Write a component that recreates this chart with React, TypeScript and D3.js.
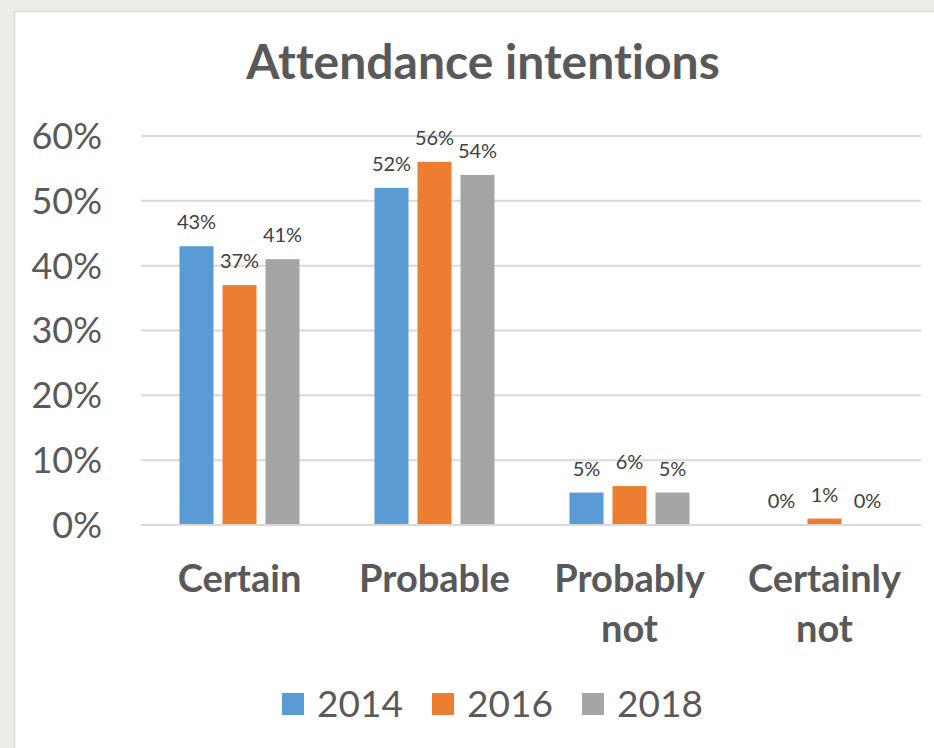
import React from "react";
import * as d3 from "d3";

const categories = ["Certain", "Probable", "Probably not", "Certainly not"];
const categoryLines = [["Certain"], ["Probable"], ["Probably", "not"], ["Certainly", "not"]];
const seriesNames = ["2014", "2016", "2018"];
const values2014 = [43, 52, 5, 0];
const values2016 = [37, 56, 6, 1];
const values2018 = [41, 54, 5, 0];
const seriesColors = ["#5B9BD5", "#ED7D31", "#A5A5A5"];
const yTicks = [0, 10, 20, 30, 40, 50, 60];

const FONT = "Lato, 'Open Sans', sans-serif";

export default function App() {
  const W = 934;
  const H = 748;
  const series = [values2014, values2016, values2018];
  const y = d3.scaleLinear().domain([0, 60]).range([525, 136]);
  const x0 = d3.scaleBand<string>().domain(categories).range([142, 922]).padding(0);
  const groupW = 120;
  const x1 = d3
    .scaleBand<string>()
    .domain(seriesNames)
    .range([0, groupW])
    .paddingInner(9 / 43)
    .paddingOuter(0);
  const off = (x0.bandwidth() - groupW) / 2;

  return (
    <svg
      width={W}
      height={H}
      style={{ position: "absolute", left: 0, top: 0, display: "block", fontVariantLigatures: "none" }}
      fontFamily={FONT}
    >
      <rect x={0} y={0} width={W} height={H} fill="#EEECE9" />
      <rect x={14.5} y={11.5} width={W} height={H} fill="#FFFFFF" stroke="#D9D9D9" strokeWidth={1.5} />
      <text x={483} y={79} textAnchor="middle" fontSize={48} fontWeight="bold" fill="#595959">
        Attendance intentions
      </text>
      {yTicks.map((t) => (
        <g key={t}>
          <line x1={141} x2={921} y1={y(t)} y2={y(t)} stroke="#D9D9D9" strokeWidth={2} />
          <text x={102} y={y(t)} dy="0.36em" textAnchor="end" fontSize={36} fill="#595959">
            {t + "%"}
          </text>
        </g>
      ))}
      {categories.map((c, ci) => (
        <g key={c} transform={`translate(${(x0(c) as number) + off},0)`}>
          {series.map((vals, si) => {
            const xs = x1(seriesNames[si]) as number;
            const v = vals[ci];
            return (
              <g key={si}>
                <rect
                  x={xs}
                  y={y(v)}
                  width={x1.bandwidth()}
                  height={y(0) - y(v) - 1}
                  fill={seriesColors[si]}
                />
                <text
                  x={xs + x1.bandwidth() / 2}
                  y={y(v) - 17}
                  textAnchor="middle"
                  fontSize={20}
                  fill="#404040"
                >
                  {v + "%"}
                </text>
              </g>
            );
          })}
        </g>
      ))}
      {categories.map((c, ci) => (
        <text
          key={c}
          x={(x0(c) as number) + x0.bandwidth() / 2}
          y={592}
          textAnchor="middle"
          fontSize={38}
          fontWeight="bold"
          fill="#595959"
        >
          {categoryLines[ci].map((line, li) => (
            <tspan key={li} x={(x0(c) as number) + x0.bandwidth() / 2} dy={li === 0 ? 0 : 50}>
              {line}
            </tspan>
          ))}
        </text>
      ))}
      {seriesNames.map((s, si) => (
        <g key={s} transform={`translate(${282 + si * 150},0)`}>
          <rect x={0} y={693} width={22} height={22} fill={seriesColors[si]} />
          <text x={35} y={717} fontSize={37} fill="#595959">
            {s}
          </text>
        </g>
      ))}
    </svg>
  );
}
